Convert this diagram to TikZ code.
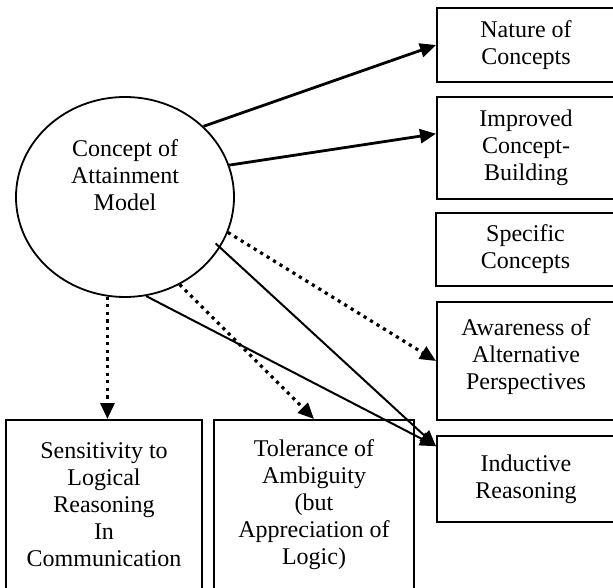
\documentclass[tikz,border=0pt]{standalone}
\usepackage{fontspec}
\setmainfont{Liberation Serif}
\usepackage{tikz}
\usetikzlibrary{positioning}
\usetikzlibrary{arrows.meta}
\usetikzlibrary{shapes.geometric}

\begin{document}
\begin{tikzpicture}[x=0.5pt, y=-0.5pt,
    txt/.style={font=\fontsize{12}{13.5}\selectfont, align=center},
    outbox/.style={txt, draw, line width=1pt, rectangle, inner sep=0pt},
    thickarrow/.style={-{Triangle[length=8pt,width=7pt]}, line width=1.4pt},
    thinarrow/.style={-{Triangle[length=8pt,width=7pt]}, line width=1pt},
    dotarrow/.style={-{Triangle[length=8pt,width=7pt]}, line width=1.6pt, dash pattern=on 1.6pt off 2.2pt}]
    \useasboundingbox (0,0) rectangle (613,587);

    % Central model
    \node[ellipse, draw, line width=0.9pt, minimum width=109pt, minimum height=100pt, inner sep=0pt,
          label={[txt, yshift=11pt]center:{Concept of\\Attainment\\Model}}] (concept) at (125,197) {};

    % Outcome boxes on the right (cut at the page edge)
    \node[outbox, minimum width=89pt, minimum height=37pt] (nature) at (526,45) {Nature of\\Concepts};
    \node[outbox, minimum width=89pt, minimum height=51pt] (improved) at (526,148) {Improved\\Concept-\\Building};
    \node[outbox, minimum width=89.5pt, minimum height=36.5pt] (specific) at (525.5,249.5) {Specific\\Concepts};
    \node[outbox, minimum width=89pt, minimum height=59pt] (awareness) at (526,361) {Awareness of\\Alternative\\Perspectives\\[-6.5pt]\mbox{}};
    \node[outbox, minimum width=89pt, minimum height=43pt] (inductive) at (526,479) {Inductive\\Reasoning};

    % Outcome boxes at the bottom (cut at the page edge)
    \node[outbox, minimum width=98pt, minimum height=85pt] (sens) at (104,505) {Sensitivity to\\Logical\\Reasoning\\In\\Communication};
    \node[outbox, minimum width=100pt, minimum height=85pt] (tol) at (314,505) {Tolerance of\\Ambiguity\\(but\\Appreciation of\\Logic)};

    % Direct effects
    \draw[thickarrow] (concept.42.7) -- (nature.west);
    \draw[thickarrow] (concept.17) -- (improved.171);
    \draw[thinarrow, shorten <=-3pt] (concept.-28) -- (inductive.160);
    \draw[thinarrow] (concept.-78.5) -- (inductive.160);

    % Nurturant effects (dotted)
    \draw[dotarrow] (concept.-19) -- (awareness.west);
    \draw[dotarrow] (concept.-58) -- (tol.north);
    \draw[dotarrow] (concept.-100) -- (concept.-100 |- sens.north);
\end{tikzpicture}
\end{document}
